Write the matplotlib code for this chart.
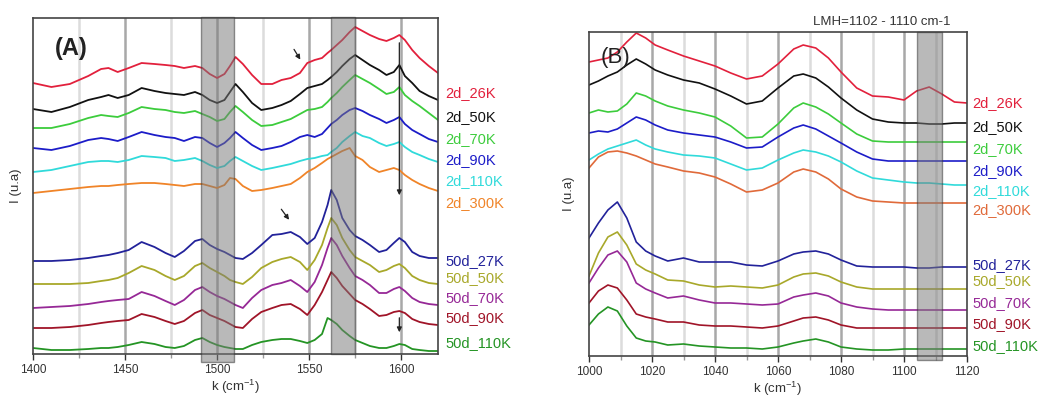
import matplotlib
matplotlib.use("Agg")
import matplotlib.pyplot as plt

plt.rcParams["font.family"] = ["Liberation Sans", "DejaVu Sans"]
plt.rcParams["mathtext.fontset"] = "custom"
plt.rcParams["mathtext.rm"] = "Liberation Sans"

# ---------------- Panel (A): 1400-1620 cm-1 ----------------
K_A = [1400, 1410, 1420, 1430, 1437, 1441, 1446, 1452, 1459, 1466, 1472, 1477,
       1482, 1488, 1492, 1496, 1500, 1504, 1507, 1510, 1514, 1519, 1524, 1530,
       1535, 1540, 1545, 1549, 1553, 1557, 1560, 1562, 1565, 1568, 1572, 1575,
       1579, 1583, 1588, 1592, 1596, 1599, 1602, 1606, 1610, 1615, 1620]

A_2D_26K = [271, 267, 270, 278, 285, 286, 282, 286, 291, 290, 289, 288,
            286, 288, 286, 280, 276, 280, 288, 297, 290, 279, 270, 270,
            274, 276, 281, 291, 294, 296, 301, 304, 309, 314, 322, 327,
            323, 319, 315, 313, 316, 319, 314, 304, 296, 288, 281]
A_2D_50K = [245, 242, 247, 254, 257, 259, 256, 259, 266, 263, 261, 260,
            259, 262, 259, 254, 251, 254, 262, 270, 262, 251, 244, 246,
            249, 253, 260, 266, 268, 270, 274, 277, 282, 288, 295, 299,
            294, 289, 284, 279, 282, 289, 278, 271, 263, 258, 254]
A_2D_70K = [226, 226, 230, 236, 239, 238, 237, 241, 247, 245, 244, 242,
            241, 243, 240, 237, 233, 235, 242, 248, 242, 234, 228, 229,
            232, 235, 240, 244, 245, 247, 252, 256, 261, 267, 274, 279,
            275, 271, 265, 260, 262, 267, 259, 253, 248, 241, 234]
A_2D_90K = [206, 204, 208, 214, 216, 215, 213, 217, 222, 219, 217, 216,
            213, 217, 216, 211, 207, 211, 216, 222, 216, 209, 204, 206,
            208, 212, 217, 219, 217, 220, 226, 230, 234, 239, 244, 246,
            243, 239, 235, 231, 234, 237, 230, 224, 220, 215, 212]
A_2D_110K = [182, 184, 188, 192, 193, 193, 192, 194, 198, 197, 196, 193,
             194, 196, 193, 189, 186, 188, 193, 197, 193, 188, 184, 186,
             188, 190, 193, 195, 196, 198, 199, 202, 206, 212, 218, 222,
             218, 216, 211, 208, 210, 212, 207, 202, 199, 195, 192]
A_2D_300K = [161, 163, 165, 167, 168, 168, 169, 170, 171, 171, 170, 169,
             168, 170, 170, 168, 166, 169, 176, 175, 168, 163, 164, 166,
             168, 170, 176, 182, 186, 191, 195, 197, 200, 203, 206, 198,
             194, 187, 182, 184, 186, 184, 179, 174, 170, 166, 163]
A_50D_27K = [93, 93, 94, 96, 98, 99, 101, 104, 112, 107, 101, 97,
             103, 113, 115, 109, 105, 102, 99, 96, 95, 101, 109, 119,
             120, 122, 117, 110, 116, 132, 149, 164, 154, 136, 124, 118,
             114, 109, 102, 104, 111, 116, 112, 102, 98, 96, 96]
A_50D_50K = [70, 70, 70, 71, 73, 74, 76, 81, 88, 84, 78, 74,
             78, 88, 91, 86, 82, 78, 74, 72, 70, 77, 86, 92,
             95, 97, 92, 84, 94, 109, 126, 136, 129, 116, 104, 97,
             93, 89, 82, 84, 88, 90, 86, 78, 74, 71, 70]
A_50D_70K = [46, 47, 48, 50, 52, 53, 54, 55, 62, 58, 53, 49,
             54, 64, 67, 62, 58, 55, 52, 49, 46, 56, 64, 69,
             71, 74, 68, 62, 72, 89, 106, 116, 109, 98, 86, 78,
             74, 69, 61, 61, 65, 67, 63, 56, 52, 50, 49]
A_50D_90K = [26, 26, 27, 29, 31, 32, 33, 34, 40, 37, 33, 30,
             33, 41, 44, 39, 36, 33, 30, 27, 26, 35, 42, 46,
             49, 50, 45, 39, 49, 62, 74, 82, 76, 68, 60, 54,
             50, 45, 38, 39, 42, 43, 41, 35, 32, 30, 29]
A_50D_110K = [6, 4, 4, 5, 6, 6, 7, 9, 12, 10, 7, 6,
              8, 14, 16, 12, 9, 7, 6, 5, 5, 9, 12, 14,
              15, 15, 13, 11, 14, 20, 36, 34, 30, 24, 18, 14,
              11, 8, 6, 6, 8, 10, 9, 5, 4, 3, 3]

# ---------------- Panel (B): 1000-1120 cm-1 ----------------
K_B = [1000, 1003, 1006, 1009, 1012, 1015, 1018, 1021, 1025, 1030, 1035, 1040,
       1045, 1050, 1055, 1060, 1065, 1068, 1072, 1076, 1080, 1085, 1090, 1095,
       1100, 1104, 1108, 1112, 1116, 1120]

B_2D_26K = [294, 296, 298, 304, 314, 323, 318, 311, 306, 300, 295, 290,
            283, 277, 280, 292, 307, 311, 308, 298, 284, 268, 260, 259,
            256, 265, 269, 262, 254, 253]
B_2D_50K = [271, 275, 280, 284, 291, 297, 292, 286, 281, 276, 273, 267,
            260, 252, 255, 268, 280, 282, 278, 269, 258, 246, 237, 234,
            233, 233, 232, 232, 233, 233]
B_2D_70K = [243, 246, 244, 245, 252, 263, 260, 255, 250, 246, 243, 239,
            230, 218, 219, 232, 248, 253, 249, 242, 233, 222, 215, 214,
            214, 214, 214, 214, 214, 214]
B_2D_90K = [223, 225, 224, 227, 233, 239, 236, 231, 226, 223, 221, 219,
            214, 208, 209, 219, 228, 231, 227, 220, 213, 204, 197, 195,
            195, 195, 195, 195, 195, 195]
B_2D_110K = [196, 202, 207, 210, 213, 216, 211, 207, 204, 201, 200, 198,
             192, 186, 188, 196, 203, 206, 204, 200, 194, 185, 178, 176,
             174, 173, 173, 172, 171, 171]
B_2D_300K = [188, 199, 204, 205, 203, 200, 196, 192, 189, 185, 183, 179,
             172, 164, 166, 173, 184, 187, 184, 177, 167, 159, 155, 154,
             153, 153, 153, 153, 153, 153]
B_50D_27K = [118, 133, 146, 154, 138, 114, 105, 100, 95, 98, 94, 94,
             94, 91, 90, 95, 102, 104, 105, 102, 96, 90, 89, 89,
             89, 88, 88, 89, 89, 89]
B_50D_50K = [80, 103, 119, 124, 111, 92, 86, 82, 76, 75, 71, 69,
             70, 69, 68, 71, 79, 82, 83, 80, 74, 69, 67, 67,
             67, 67, 67, 67, 67, 67]
B_50D_70K = [73, 88, 101, 105, 94, 73, 67, 63, 58, 60, 56, 53,
             53, 52, 51, 52, 59, 61, 63, 60, 53, 49, 47, 46,
             46, 46, 46, 46, 46, 46]
B_50D_90K = [53, 65, 71, 68, 56, 42, 39, 37, 34, 34, 31, 30,
             30, 29, 28, 30, 35, 38, 39, 36, 31, 28, 28, 28,
             28, 28, 28, 28, 28, 28]
B_50D_110K = [31, 42, 49, 45, 30, 18, 15, 14, 11, 12, 10, 9,
              8, 8, 7, 9, 13, 15, 17, 14, 9, 7, 6, 6,
              7, 7, 7, 7, 7, 7]

LABELS = ["2d_26K", "2d_50K", "2d_70K", "2d_90K", "2d_110K", "2d_300K",
          "50d_27K", "50d_50K", "50d_70K", "50d_90K", "50d_110K"]
COLORS = ["#e2203c", "#111111", "#3ccc3c", "#1c1cc8", "#30dada", "#f08428",
          "#22229a", "#a8a82a", "#962896", "#a01428", "#249424"]
COLORS_B_300K = "#e06a3a"

SERIES_A = [A_2D_26K, A_2D_50K, A_2D_70K, A_2D_90K, A_2D_110K, A_2D_300K,
            A_50D_27K, A_50D_50K, A_50D_70K, A_50D_90K, A_50D_110K]
SERIES_B = [B_2D_26K, B_2D_50K, B_2D_70K, B_2D_90K, B_2D_110K, B_2D_300K,
            B_50D_27K, B_50D_50K, B_50D_70K, B_50D_90K, B_50D_110K]

# highlighted bands (cm-1)
BANDS_A = [(1491, 1509), (1562, 1575)]
BAND_B = (1104, 1112)

W, H = 1040, 397
fig = plt.figure(figsize=(W / 100, H / 100), dpi=100)

axA = fig.add_axes([33 / W, 1 - 354 / H, 405 / W, 336 / H])
axB = fig.add_axes([589 / W, 1 - 356 / H, 378 / W, 324 / H])


def style_axes(ax, major, minor, ticks, xlim, ylim, label_x, label_y):
    ax.set_xlim(*xlim)
    ax.set_ylim(*ylim)
    for x in minor:
        ax.axvline(x, color="#dcdcdc", lw=1.8, zorder=0)
    for x in major:
        ax.axvline(x, color="#a8a8a8", lw=1.8, zorder=0)
    ax.set_yticks([])
    ax.set_xticks(ticks)
    ax.set_xticks(minor, minor=True)
    ax.tick_params(axis="x", which="major", length=4, width=1, labelsize=8.5,
                   colors="#333333", pad=3)
    ax.tick_params(axis="x", which="minor", length=3, width=1, colors="#999999")
    for s in ax.spines.values():
        s.set_color("#444444")
        s.set_linewidth(1.2)
    ax.set_xlabel("k (cm$^{-1}$)", fontsize=9.5, color="#333333")
    ax.xaxis.set_label_coords(0.5, label_x)
    ax.set_ylabel("I (u.a)", fontsize=9.5, color="#333333")
    ax.yaxis.set_label_coords(label_y, 0.5)


# ---- panel A ----
style_axes(axA, [1450, 1500, 1550, 1600], [1425, 1475, 1525, 1575],
           [1400, 1450, 1500, 1550, 1600], (1400, 1620), (0, 336),
           -24 / 336, -0.027)
for ys, c in zip(SERIES_A, COLORS):
    axA.plot(K_A, ys, color=c, lw=1.3, zorder=2)
axA.axvspan(*BANDS_A[0], ymin=-0.024, ymax=1.003, facecolor="#7a7a7a", alpha=0.52,
            edgecolor="#333333", lw=1.0, clip_on=False, zorder=3)
axA.axvspan(*BANDS_A[1], ymin=0.0, ymax=1.003, facecolor="#7a7a7a", alpha=0.52,
            edgecolor="#333333", lw=1.0, clip_on=False, zorder=3)

# arrows marking band shifts
arrow = dict(arrowstyle="-|>", color="#222222", lw=0.9, mutation_scale=7)
axA.annotate("", xy=(1546, 292), xytext=(1541, 307), arrowprops=arrow, zorder=5)
axA.annotate("", xy=(1540, 132), xytext=(1534, 147), arrowprops=arrow, zorder=5)
axA.annotate("", xy=(1599, 156), xytext=(1599, 314), arrowprops=arrow, zorder=5)
axA.annotate("", xy=(1599, 19), xytext=(1599, 39), arrowprops=arrow, zorder=5)
axA.text(0.055, 0.91, "(A)", transform=axA.transAxes, fontsize=17,
         fontweight="bold", color="#222222", ha="left", va="center")

# ---- panel B ----
style_axes(axB, [1020, 1040, 1060, 1080, 1100], [1010, 1030, 1050, 1070, 1090, 1110],
           [1000, 1020, 1040, 1060, 1080, 1100, 1120], (1000, 1120), (0, 324),
           -24 / 324, -0.037)
colors_b = list(COLORS)
colors_b[5] = COLORS_B_300K
for ys, c in zip(SERIES_B, colors_b):
    axB.plot(K_B, ys, color=c, lw=1.2, zorder=2)
axB.axvspan(*BAND_B, ymin=-0.013, ymax=1.0, facecolor="#7a7a7a", alpha=0.52,
            edgecolor="#333333", lw=1.0, clip_on=False, zorder=3)
axB.text(0.03, 0.92, "(B)", transform=axB.transAxes, fontsize=16,
         color="#222222", ha="left", va="center")
fig.text(882 / W, 1 - 22 / H, "LMH=1102 - 1110 cm-1", fontsize=9.5,
         color="#333333", ha="center", va="center")

# ---- curve labels ----
LABEL_Y_A = [93, 117, 139, 160, 181, 203, 261, 278, 298, 318, 343]
LABEL_Y_B = [103, 127, 149, 171, 191, 210, 265, 281, 303, 324, 346]
for lab, c, ya, yb in zip(LABELS, COLORS, LABEL_Y_A, LABEL_Y_B):
    fig.text(445 / W, 1 - ya / H, lab, color=c, fontsize=10.5, ha="left", va="center")
    cb = COLORS_B_300K if lab == "2d_300K" else c
    fig.text(972 / W, 1 - yb / H, lab, color=cb, fontsize=10.5, ha="left", va="center")

fig.savefig("out.png", dpi=100)
